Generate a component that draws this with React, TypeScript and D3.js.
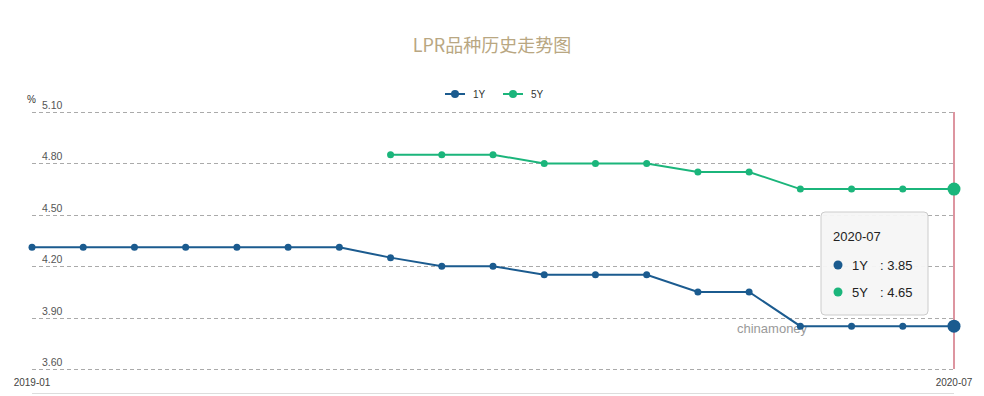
import { useEffect, useRef } from "react";
import * as d3 from "d3";

const months = [
  "2019-01", "2019-02", "2019-03", "2019-04", "2019-05", "2019-06", "2019-07",
  "2019-08", "2019-09", "2019-10", "2019-11", "2019-12", "2020-01", "2020-02",
  "2020-03", "2020-04", "2020-05", "2020-06", "2020-07",
];
const oneYear: (number | null)[] = [
  4.31, 4.31, 4.31, 4.31, 4.31, 4.31, 4.31, 4.25, 4.2, 4.2, 4.15, 4.15, 4.15,
  4.05, 4.05, 3.85, 3.85, 3.85, 3.85,
];
const fiveYear: (number | null)[] = [
  null, null, null, null, null, null, null, 4.85, 4.85, 4.85, 4.8, 4.8, 4.8,
  4.75, 4.75, 4.65, 4.65, 4.65, 4.65,
];
const yTicks = [3.6, 3.9, 4.2, 4.5, 4.8, 5.1];
const xTickLabels = ["2019-01", "2020-07"];

const C1 = "#1b5b8f";
const C5 = "#1bb57b";
const W = 984;
const H = 396;
const M = { top: 112, right: 30, bottom: 27, left: 32 };

export default function App() {
  const svgRef = useRef<SVGSVGElement>(null);

  useEffect(() => {
    const svg = d3.select(svgRef.current!);
    svg.selectAll("*").remove();

    const x = d3
      .scalePoint<string>()
      .domain(months)
      .range([M.left, W - M.right]);
    const y = d3
      .scaleLinear()
      .domain([3.6, 5.1])
      .range([H - M.bottom, M.top]);

    const font = "Arial, 'Liberation Sans', sans-serif";

    // title
    svg
      .append("text")
      .attr("x", W / 2)
      .attr("y", 52)
      .attr("text-anchor", "middle")
      .attr("fill", "#b9a782")
      .attr("font-family", "'Noto Sans CJK SC', sans-serif")
      .attr("font-size", 18)
      .text("LPR品种历史走势图");

    // legend
    const legend = [
      { name: "1Y", color: C1, x: 445 },
      { name: "5Y", color: C5, x: 503 },
    ];
    legend.forEach((l) => {
      const g = svg.append("g");
      g.append("line")
        .attr("x1", l.x)
        .attr("x2", l.x + 20)
        .attr("y1", 94)
        .attr("y2", 94)
        .attr("stroke", l.color)
        .attr("stroke-width", 2);
      g.append("circle")
        .attr("cx", l.x + 10)
        .attr("cy", 94)
        .attr("r", 4)
        .attr("fill", l.color);
      g.append("text")
        .attr("x", l.x + 28)
        .attr("y", 94)
        .attr("dy", "0.35em")
        .attr("fill", "#333")
        .attr("font-family", font)
        .attr("font-size", 10)
        .text(l.name);
    });

    // grid + y labels
    svg
      .append("g")
      .selectAll("line")
      .data(yTicks)
      .enter()
      .append("line")
      .attr("x1", M.left)
      .attr("x2", x(months[months.length - 1])!)
      .attr("y1", (d) => Math.round(y(d)) + 0.5)
      .attr("y2", (d) => Math.round(y(d)) + 0.5)
      .attr("stroke", "#aaa")
      .attr("stroke-dasharray", "4 3");

    svg
      .append("g")
      .selectAll("text")
      .data(yTicks)
      .enter()
      .append("text")
      .attr("x", 42)
      .attr("y", (d) => y(d) - 3)
      .attr("fill", "#555")
      .attr("font-family", font)
      .attr("font-size", 10.5)
      .text((d) => d.toFixed(2));

    svg
      .append("text")
      .attr("x", 27)
      .attr("y", 103)
      .attr("fill", "#333")
      .attr("font-family", font)
      .attr("font-size", 10)
      .text("%");

    // bottom axis line
    svg
      .append("line")
      .attr("x1", M.left)
      .attr("x2", x(months[months.length - 1])!)
      .attr("y1", 393.5)
      .attr("y2", 393.5)
      .attr("stroke", "#ddd");

    svg
      .append("g")
      .selectAll("text")
      .data(xTickLabels)
      .enter()
      .append("text")
      .attr("x", (d) => x(d)!)
      .attr("y", 386)
      .attr("text-anchor", "middle")
      .attr("fill", "#444")
      .attr("font-family", font)
      .attr("font-size", 10)
      .text((d) => d);

    // watermark
    svg
      .append("text")
      .attr("x", 737)
      .attr("y", 333)
      .attr("fill", "#9a9a9a")
      .attr("font-family", font)
      .attr("font-size", 13)
      .text("chinamoney");

    // crosshair
    const lastX = x(months[months.length - 1])!;
    svg
      .append("line")
      .attr("x1", lastX)
      .attr("x2", lastX)
      .attr("y1", M.top)
      .attr("y2", H - M.bottom)
      .attr("stroke", "#d27280")
      .attr("stroke-width", 1.5);

    // series
    const series = [
      { name: "1Y", values: oneYear, color: C1 },
      { name: "5Y", values: fiveYear, color: C5 },
    ];
    series.forEach((s) => {
      const pts = months
        .map((m, i) => ({ m, v: s.values[i] }))
        .filter((p) => p.v !== null) as { m: string; v: number }[];
      const line = d3
        .line<{ m: string; v: number }>()
        .x((d) => x(d.m)!)
        .y((d) => y(d.v));
      svg
        .append("path")
        .datum(pts)
        .attr("d", line)
        .attr("fill", "none")
        .attr("stroke", s.color)
        .attr("stroke-width", 2);
      svg
        .append("g")
        .selectAll("circle")
        .data(pts)
        .enter()
        .append("circle")
        .attr("cx", (d) => x(d.m)!)
        .attr("cy", (d) => y(d.v))
        .attr("r", (d, i) => (i === pts.length - 1 ? 6.5 : 3.5))
        .attr("fill", s.color);
    });

    // tooltip
    const tip = svg.append("g").attr("transform", "translate(821,212)");
    tip
      .append("rect")
      .attr("width", 107)
      .attr("height", 103)
      .attr("rx", 4)
      .attr("fill", "#f5f5f5")
      .attr("fill-opacity", 0.95)
      .attr("stroke", "#ccc");
    tip
      .append("text")
      .attr("x", 12)
      .attr("y", 29)
      .attr("fill", "#222")
      .attr("font-family", font)
      .attr("font-size", 13)
      .text(months[months.length - 1]);
    series.forEach((s, i) => {
      const ty = 53 + i * 27;
      tip
        .append("circle")
        .attr("cx", 17)
        .attr("cy", ty)
        .attr("r", 4.5)
        .attr("fill", s.color);
      tip
        .append("text")
        .attr("x", 31)
        .attr("y", ty)
        .attr("dy", "0.35em")
        .attr("fill", "#222")
        .attr("font-family", font)
        .attr("font-size", 13)
        .text(s.name);
      tip
        .append("text")
        .attr("x", 59)
        .attr("y", ty)
        .attr("dy", "0.35em")
        .attr("fill", "#222")
        .attr("font-family", font)
        .attr("font-size", 13)
        .text(": " + (s.values[s.values.length - 1] as number).toFixed(2));
    });
  }, []);

  return (
    <svg
      ref={svgRef}
      width={W}
      height={H}
      style={{ position: "absolute", left: 0, top: 0, display: "block" }}
    />
  );
}
